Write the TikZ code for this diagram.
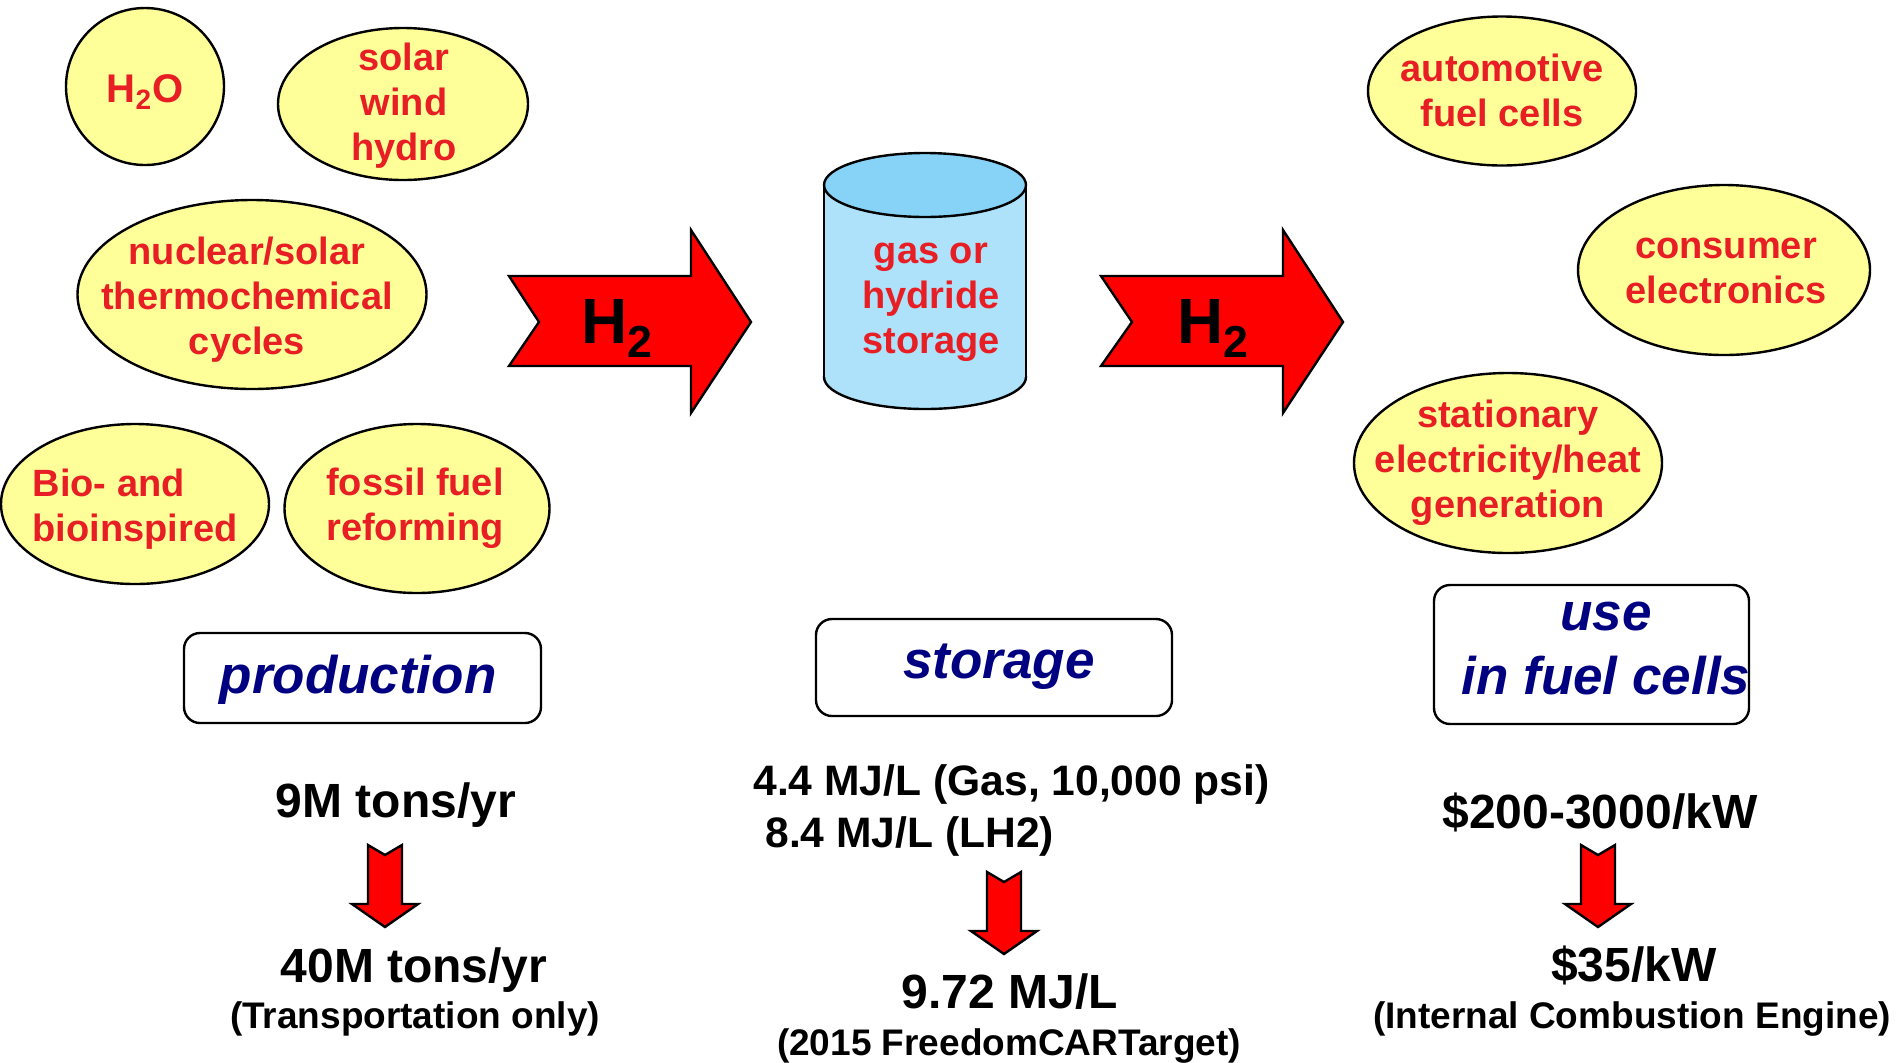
\documentclass[tikz,border=0pt]{standalone}
\usepackage{fontspec}
\setmainfont{Liberation Sans}
\usepackage{xcolor}
\usepackage{tikz}
\usetikzlibrary{shapes.geometric}

\definecolor{blobfill}{HTML}{FFFF99}
\definecolor{blobred}{HTML}{E81E25}
\definecolor{tanktop}{HTML}{87D3F8}
\definecolor{tankbody}{HTML}{ADE2FA}
\definecolor{stagenavy}{HTML}{000080}
\definecolor{flowred}{HTML}{FF0000}

\begin{document}
\begin{tikzpicture}[x=0.5pt,y=-0.5pt,line join=miter,
  blob/.style={ellipse,draw,line width=1.2pt,fill=blobfill,inner sep=0pt},
  blobtext/.style={text=blobred,font=\fontsize{19}{22.5}\selectfont\bfseries,align=center,inner sep=0pt},
  stagebox/.style={draw,line width=1.2pt,rounded corners=8pt,inner sep=0pt},
  stagetext/.style={text=stagenavy,font=\fontsize{26.5}{32}\selectfont\bfseries\itshape,inner sep=0pt,anchor=base},
  flow/.style={draw,line width=1.2pt,fill=flowred},
  bignum/.style={font=\fontsize{24}{28}\selectfont\bfseries,inner sep=0pt,anchor=base},
  midnum/.style={font=\fontsize{21.3}{25}\selectfont\bfseries,inner sep=0pt,anchor=base west},
  smallnote/.style={font=\fontsize{18.5}{22}\selectfont\bfseries,inner sep=0pt,anchor=base},
  htwo/.style={font=\fontsize{32}{36}\selectfont\bfseries,inner sep=0pt,anchor=base west}]
\useasboundingbox (0,0) rectangle (1901,1062);

% sources
\node[blob,minimum width=79pt,minimum height=78.5pt] (h2o) at (145,86.5) {};
\node[blob,minimum width=125pt,minimum height=76pt] (renew) at (403,104) {};
\node[blob,minimum width=174.5pt,minimum height=94.5pt] (thermo) at (252,294.5) {};
\node[blob,minimum width=134pt,minimum height=80pt] (bio) at (135,504) {};
\node[blob,minimum width=132.5pt,minimum height=84.5pt] (fossil) at (417,508.5) {};
\node[blobtext] (h2o-t) at (145,92) {\fontsize{20}{24}\selectfont H\textsubscript{2}O};
\node[blobtext] (renew-t) at (404,106) {solar\\wind\\hydro};
\node[blobtext] (thermo-t) at (247,300) {nuclear/solar\\thermochemical\\cycles};
\node[blobtext,align=left] (bio-t) at (135,509) {Bio- and\\bioinspired};
\node[blobtext,align=left] (fossil-t) at (415,508) {fossil fuel\\reforming};

% uses
\node[blob,minimum width=134pt,minimum height=74.5pt] (auto) at (1502,91) {};
\node[blob,minimum width=146pt,minimum height=85pt] (consumer) at (1724,270) {};
\node[blob,minimum width=154pt,minimum height=90pt] (stationary) at (1508,463) {};
\node[blobtext] (auto-t) at (1502,90) {automotive\\fuel cells};
\node[blobtext] (consumer-t) at (1726,271) {consumer\\electronics};
\node[blobtext] (stationary-t) at (1508,463) {stationary\\electricity/heat\\generation};

% H2 arrows
\filldraw[flow] (509,276) -- (691,276) -- (691,230) -- (751,322) -- (691,413) -- (691,366) -- (509,366) -- (539,322) -- cycle;
\filldraw[flow] (1101,276) -- (1283,276) -- (1283,230) -- (1343,322) -- (1283,413) -- (1283,366) -- (1101,366) -- (1132,322) -- cycle;
\node[htwo] (h2in) at (581,343) {H\textsubscript{2}};
\node[htwo] (h2out) at (1177,343) {H\textsubscript{2}};

% tank
\filldraw[line width=1.2pt,fill=tankbody] (925,377) ellipse [x radius=101,y radius=32];
\fill[tankbody] (824,185) rectangle (1026,377);
\draw[line width=1.2pt] (824,185) -- (824,377);
\draw[line width=1.2pt] (1026,185) -- (1026,377);
\filldraw[line width=1.2pt,fill=tanktop] (925,185) ellipse [x radius=101,y radius=32];
\node[blobtext] (tank) at (931,302) {gas or\\hydride\\storage};

% stage labels
\node[stagebox,minimum width=178.5pt,minimum height=45pt] (prodbox) at (362.5,678) {};
\node[stagebox,minimum width=178pt,minimum height=48.5pt] (storebox) at (994,667.5) {};
\node[stagebox,minimum width=157.5pt,minimum height=69.5pt] (usebox) at (1591.5,654.5) {};
\node[stagetext] (prodlabel) at (358,693) {production};
\node[stagetext] (storelabel) at (999,678) {storage};
\node[stagetext] (uselabel) at (1606,630) {use};
\node[stagetext] (fclabel) at (1606,694) {in fuel cells};

% figures now
\node[bignum] (prodnow) at (396,817) {9M tons/yr};
\node[midnum] (gasnow) at (753,795) {4.4 MJ/L (Gas, 10,000 psi)};
\node[midnum] (lh2now) at (765,847) {8.4 MJ/L (LH2)};
\node[bignum] (costnow) at (1600,828) {\$200-3000/kW};

% down arrows
\filldraw[flow] (368,845) -- (385,855) -- (402,845) -- (402,904) -- (418,904) -- (385,927) -- (352,904) -- (368,904) -- cycle;
\filldraw[flow] (987,872) -- (1004,882) -- (1021,872) -- (1021,931) -- (1037,931) -- (1004,954) -- (971,931) -- (987,931) -- cycle;
\filldraw[flow] (1581,845) -- (1598,855) -- (1615,845) -- (1615,904) -- (1631,904) -- (1598,927) -- (1565,904) -- (1581,904) -- cycle;

% targets
\node[bignum] (prodgoal) at (414,982) {40M tons/yr};
\node[smallnote] (prodnote) at (415,1028) {(Transportation only)};
\node[bignum] (storegoal) at (1010,1008) {9.72 MJ/L};
\node[smallnote] (storenote) at (1009,1055) {(2015 FreedomCARTarget)};
\node[bignum] (costgoal) at (1634,981) {\$35/kW};
\node[smallnote] (costnote) at (1632,1028) {(Internal Combustion Engine)};
\end{tikzpicture}
\end{document}
